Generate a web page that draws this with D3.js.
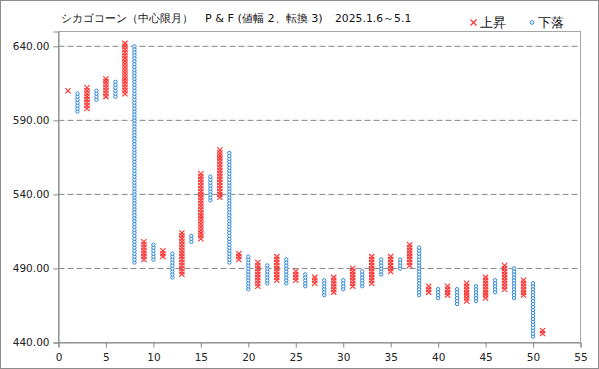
<!DOCTYPE html>
<html>
<head>
<meta charset="utf-8">
<script src="https://cdn.jsdelivr.net/npm/d3@7"></script>
<style>
body { margin: 0; background: #fff; }
svg text { font-family: "DejaVu Sans", sans-serif; }
</style>
</head>
<body>
<div id="chart"></div>
<script>
// P&F columns (box 2, reversal 3), column no. 1..51
const kinds = ["X","O","X","O","X","O","X","O","X","O",
               "X","O","X","O","X","O","X","O","X","O",
               "X","O","X","O","X","O","X","O","X","O",
               "X","O","X","O","X","O","X","O","X","O",
               "X","O","X","O","X","O","X","O","X","O","X"]
const tops = [610,608,612,610,618,616,642,640,508,506,
              502,500,514,512,554,552,570,568,500,498,
              494,492,498,496,488,486,484,482,484,482,
              490,488,498,496,498,496,506,504,478,476,
              478,476,480,478,484,482,492,490,482,480,448]
const bottoms = [610,596,598,604,606,606,608,494,496,496,
                 498,484,486,508,510,536,538,494,496,476,
                 478,480,482,480,482,478,480,472,474,476,
                 478,478,480,486,488,490,492,472,474,470,
                 472,466,468,468,470,474,476,470,472,444,446]
const boxSize = 2
const yTicks = [440, 490, 540, 590, 640]
const xTicks = [0, 5, 10, 15, 20, 25, 30, 35, 40, 45, 50, 55]
// title pieces: text, left x, width
const titleParts = [
  ["シカゴコーン（中心限月）", 61, 132],
  ["P & F (値幅 2、転換 3)", 205, 119],
  ["2025.1.6～5.1", 335, 76]
]

const W = 599, H = 369
const red = "#ff2a2a", blue = "#2a86d8"

const svg = d3.select("#chart").append("svg").attr("width", W).attr("height", H)

// outer border
svg.append("rect").attr("x", 0.5).attr("y", 0.5).attr("width", W - 1).attr("height", H - 1)
  .attr("fill", "#fff").attr("stroke", "#8c8c8c")

const x = d3.scaleLinear().domain([0, 55]).range([58.5, 580.5])
const y = d3.scaleLinear().domain([440, 650]).range([342.5, 31.5])

// plot frame
svg.append("rect").attr("x", x(0)).attr("y", y(650)).attr("width", x(55) - x(0)).attr("height", y(440) - y(650))
  .attr("fill", "none").attr("stroke", "#a6a6a6")

// dashed grid
svg.selectAll(".grid").data(yTicks.slice(1)).enter().append("line")
  .attr("class", "grid")
  .attr("x1", x(0)).attr("x2", x(55))
  .attr("y1", d => y(d)).attr("y2", d => y(d))
  .attr("stroke", "#868686").attr("stroke-dasharray", "6,3")

// axes
const yAxis = svg.append("g").attr("transform", "translate(" + x(0) + ",0)")
  .call(d3.axisLeft(y).tickValues(yTicks).tickFormat(d3.format(".2f")).tickSize(5).tickPadding(4))
const xAxis = svg.append("g").attr("transform", "translate(0," + y(440) + ")")
  .call(d3.axisBottom(x).tickValues(xTicks).tickSize(5).tickPadding(6))
;[yAxis, xAxis].forEach(a => {
  a.selectAll("path,line").attr("stroke", "#868686")
  a.selectAll("text").attr("fill", "#222").attr("font-size", "10.5px").attr("font-family", "DejaVu Sans")
})

// one row per box
const boxes = []
kinds.forEach((k, i) => {
  d3.range(bottoms[i], tops[i] + 0.001, boxSize).forEach(v => boxes.push({ col: i + 1, kind: k, v: v }))
})

const g = svg.append("g")
const s = 2.6
g.selectAll(".xbox").data(boxes.filter(d => d.kind === "X")).enter().append("path")
  .attr("class", "xbox")
  .attr("d", d => {
    const cx = x(d.col), cy = y(d.v)
    return "M" + (cx - s) + "," + (cy - s) + "L" + (cx + s) + "," + (cy + s) +
           "M" + (cx - s) + "," + (cy + s) + "L" + (cx + s) + "," + (cy - s)
  })
  .attr("stroke", red).attr("stroke-width", 1.1).attr("fill", "none")

g.selectAll(".obox").data(boxes.filter(d => d.kind === "O")).enter().append("circle")
  .attr("class", "obox")
  .attr("cx", d => x(d.col)).attr("cy", d => y(d.v)).attr("r", 1.7)
  .attr("stroke", blue).attr("stroke-width", 1).attr("fill", "#fff")

// title - size each piece so it spans about the same width as in the picture
svg.selectAll(".title").data(titleParts).enter().append("text")
  .attr("class", "title")
  .attr("x", d => d[1]).attr("y", 22)
  .attr("font-size", "12px").attr("font-family", "Noto Sans CJK JP").attr("fill", "#111")
  .text(d => d[0])
  .each(function(d) {
    const len = this.getComputedTextLength()
    const fs = Math.max(9, Math.min(13, 12 * d[2] / len))
    d3.select(this).attr("font-size", fs.toFixed(1) + "px")
  })

// legend
const lg = svg.append("g")
lg.append("path").attr("d", "M470.5,19.5L476.5,25.5M470.5,25.5L476.5,19.5").attr("stroke", red).attr("stroke-width", 1.1)
lg.append("text").attr("x", 480).attr("y", 27).attr("font-size", "13px").attr("font-family", "Noto Sans CJK JP").attr("fill", "#111").text("上昇")
lg.append("circle").attr("cx", 532).attr("cy", 22.5).attr("r", 1.8).attr("stroke", blue).attr("fill", "#fff")
lg.append("text").attr("x", 538).attr("y", 27).attr("font-size", "13px").attr("font-family", "Noto Sans CJK JP").attr("fill", "#111").text("下落")
</script>
</body>
</html>
